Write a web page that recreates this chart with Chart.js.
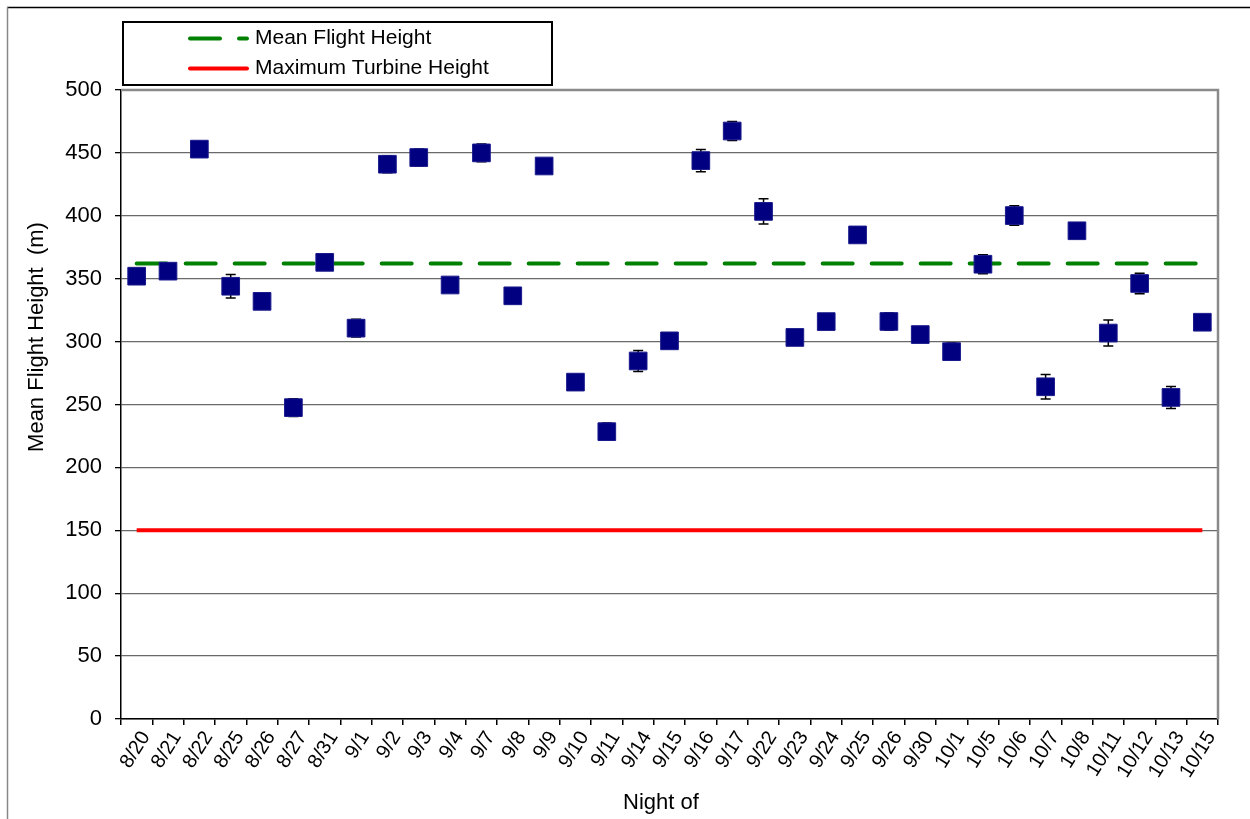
<!DOCTYPE html>
<html><head><meta charset="utf-8">
<script src="https://cdn.jsdelivr.net/npm/chart.js@4"></script>
<style>html,body{margin:0;padding:0;background:#fff;}canvas{display:block;}</style>
</head><body>
<canvas id="c" style="width:1250px;height:819px"></canvas>
<script>
const nights = ['8/20','8/21','8/22','8/25','8/26','8/27','8/31','9/1','9/2','9/3','9/4','9/7','9/8','9/9','9/10','9/11','9/14','9/15','9/16','9/17','9/22','9/23','9/24','9/25','9/26','9/30','10/1','10/5','10/6','10/7','10/8','10/11','10/12','10/13','10/15'];
const meanHeights = [352,356,453,344,332,247.5,363,310.7,441,446.3,345,450,336.4,439.6,267.8,228.4,284.6,300.6,443.9,467.4,403.5,303.3,315.9,384.8,316,305.6,292,361.5,400.2,264.1,388.1,306.8,346.2,255.6,315.4];
const errorMargins = [4,4,4,9.3,4,7,4,7,6.8,6.8,4,7,4,4,4,6.8,8.4,4,8.9,7.5,10,4,4,4,7,5,6.8,7.6,7.8,9.8,4,10.3,8.2,8.8,4];
const overallMeanHeight = 362;
const maxTurbineHeight = 150;
const yMin = 0, yMax = 500, yStep = 50;
const legendLabels = ['Mean Flight Height','Maximum Turbine Height'];
const yTitle = 'Mean Flight Height  (m)';
const xTitle = 'Night of';

const FONT = "'Liberation Sans', Arial, sans-serif";

const errorBarPlugin = {
  id: 'errorBars',
  beforeDatasetsDraw(chart) {
    const ctx = chart.ctx, xs = chart.scales.x, ys = chart.scales.y;
    ctx.save();
    ctx.strokeStyle = '#000';
    ctx.lineWidth = 1.5;
    meanHeights.forEach((v, i) => {
      const x = xs.getPixelForValue(i);
      const yt = ys.getPixelForValue(v + errorMargins[i]);
      const yb = ys.getPixelForValue(v - errorMargins[i]);
      ctx.beginPath();
      ctx.moveTo(x, yt); ctx.lineTo(x, yb);
      ctx.moveTo(x - 5, yt); ctx.lineTo(x + 5, yt);
      ctx.moveTo(x - 5, yb); ctx.lineTo(x + 5, yb);
      ctx.stroke();
    });
    ctx.restore();
  }
};

const decorPlugin = {
  id: 'decor',
  beforeDraw(chart) {
    const ctx = chart.ctx;
    ctx.save();
    ctx.fillStyle = '#fff';
    ctx.fillRect(0, 0, chart.width, chart.height);
    ctx.strokeStyle = '#000';
    ctx.lineWidth = 1.5;
    ctx.beginPath(); ctx.moveTo(7, 7.5); ctx.lineTo(chart.width, 7.5); ctx.stroke();
    ctx.strokeStyle = '#888';
    ctx.beginPath(); ctx.moveTo(7.5, 7); ctx.lineTo(7.5, chart.height); ctx.stroke();
    ctx.restore();
  },
  afterDatasetsDraw(chart) {
    const ctx = chart.ctx, a = chart.chartArea;
    ctx.save();
    ctx.strokeStyle = '#8a8a8a';
    ctx.lineWidth = 2.5;
    ctx.beginPath();
    ctx.moveTo(a.left, a.top); ctx.lineTo(a.right, a.top); ctx.lineTo(a.right, a.bottom);
    ctx.stroke();
    ctx.restore();
  },
  afterDraw(chart) {
    const ctx = chart.ctx;
    ctx.save();
    ctx.strokeStyle = '#000';
    ctx.lineWidth = 2;
    ctx.strokeRect(123, 22, 429, 63);
    ctx.lineCap = 'round';
    ctx.lineWidth = 4;
    ctx.strokeStyle = '#008000';
    ctx.setLineDash([30, 19]);
    ctx.beginPath(); ctx.moveTo(190, 38.5); ctx.lineTo(247, 38.5); ctx.stroke();
    ctx.setLineDash([]);
    ctx.strokeStyle = '#ff0000';
    ctx.beginPath(); ctx.moveTo(190, 68.5); ctx.lineTo(247, 68.5); ctx.stroke();
    ctx.fillStyle = '#000';
    ctx.font = '21px ' + FONT;
    ctx.textBaseline = 'middle';
    ctx.textAlign = 'left';
    ctx.fillText(legendLabels[0], 255, 38.5);
    ctx.fillText(legendLabels[1], 255, 68.5);
    ctx.font = '22px ' + FONT;
    ctx.textAlign = 'center';
    ctx.fillText(xTitle, 661, 803);
    ctx.translate(37, 337);
    ctx.rotate(-Math.PI / 2);
    ctx.fillText(yTitle, 0, 0);
    ctx.restore();
  }
};

new Chart(document.getElementById('c'), {
  data: {
    labels: nights,
    datasets: [
      {
        type: 'line',
        label: 'Mean Flight Height by night',
        data: meanHeights,
        showLine: false,
        pointStyle: 'rect',
        pointRadius: 12.5,
        backgroundColor: '#000080',
        borderColor: '#1a1a8c',
        pointBorderWidth: 1,
        order: 0
      },
      {
        type: 'line',
        label: legendLabels[0],
        data: [{x: nights[0], y: overallMeanHeight}, {x: nights[nights.length - 1], y: overallMeanHeight}],
        borderColor: '#008000',
        borderWidth: 4,
        borderDash: [30, 19],
        borderCapStyle: 'round',
        pointRadius: 0,
        order: 2
      },
      {
        type: 'line',
        label: legendLabels[1],
        data: [{x: nights[0], y: maxTurbineHeight}, {x: nights[nights.length - 1], y: maxTurbineHeight}],
        borderColor: '#ff0000',
        borderWidth: 4,
        pointRadius: 0,
        order: 1
      }
    ]
  },
  options: {
    responsive: false,
    devicePixelRatio: 1,
    animation: false,
    layout: { padding: { left: 0, top: 90, right: 32, bottom: 0 } },
    plugins: { legend: { display: false }, tooltip: { enabled: false } },
    scales: {
      x: {
        type: 'category',
        offset: true,
        afterFit(s) { s.height = 100; },
        grid: { offset: true, drawOnChartArea: false, drawTicks: true, tickLength: 6, color: '#000', lineWidth: 1.5 },
        border: { color: '#000', width: 1.5 },
        ticks: { autoSkip: false, minRotation: 58, maxRotation: 58, padding: 2, labelOffset: 9, color: '#000', font: { family: FONT, size: 20 } }
      },
      y: {
        min: yMin, max: yMax,
        afterFit(s) { s.width = 121; },
        grid: { color: '#6a6a6a', lineWidth: 1.3, tickLength: 6, tickColor: '#000', tickWidth: 1.3 },
        border: { color: '#000', width: 1.5 },
        ticks: { stepSize: yStep, padding: 13, color: '#000', font: { family: FONT, size: 22 } }
      }
    }
  },
  plugins: [errorBarPlugin, decorPlugin]
});
</script>
</body></html>
